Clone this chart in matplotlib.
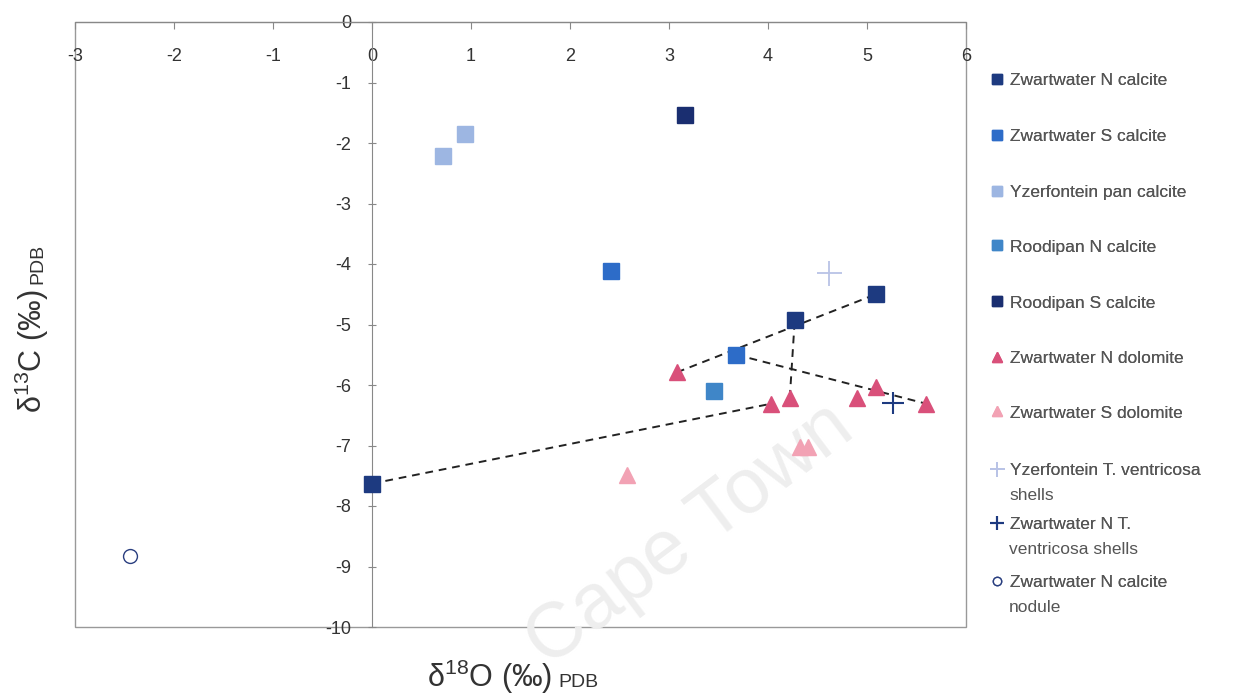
import matplotlib
matplotlib.use("Agg")
import matplotlib.pyplot as plt
from matplotlib.patches import Rectangle

plt.rcParams['font.family'] = ['Liberation Sans', 'DejaVu Sans']
plt.rcParams['mathtext.fontset'] = 'custom'
plt.rcParams['mathtext.rm'] = 'Liberation Sans'

# ---- data ----
zn_cal_x = [5.09, 4.27, 0.0]
zn_cal_y = [-4.50, -4.93, -7.63]
zs_cal_x = [2.41, 3.68]
zs_cal_y = [-4.12, -5.50]
yz_cal_x = [0.94, 0.72]
yz_cal_y = [-1.85, -2.21]
rn_cal_x = [3.45]
rn_cal_y = [-6.10]
rs_cal_x = [3.16]
rs_cal_y = [-1.54]
zn_dol_x = [3.08, 4.03, 4.22, 4.90, 5.09, 5.60]
zn_dol_y = [-5.79, -6.31, -6.21, -6.21, -6.03, -6.31]
zs_dol_x = [2.58, 4.32, 4.40]
zs_dol_y = [-7.49, -7.02, -7.02]
yz_shell_x = [4.62]
yz_shell_y = [-4.15]
zn_shell_x = [5.26]
zn_shell_y = [-6.30]
nodule_x = [-2.44]
nodule_y = [-8.83]

# dashed connecting lines (pairs of end points)
link_x = [[0.0, 4.03], [4.22, 4.27], [3.08, 5.09], [3.68, 5.60]]
link_y = [[-7.63, -6.31], [-6.21, -4.93], [-5.79, -4.50], [-5.50, -6.31]]

x_ticks = [-3, -2, -1, 0, 1, 2, 3, 4, 5, 6]
y_ticks = [0, -1, -2, -3, -4, -5, -6, -7, -8, -9, -10]

legend_first = ['Zwartwater N calcite', 'Zwartwater S calcite', 'Yzerfontein pan calcite',
                'Roodipan N calcite', 'Roodipan S calcite', 'Zwartwater N dolomite',
                'Zwartwater S dolomite', 'Yzerfontein T. ventricosa', 'Zwartwater N T.',
                'Zwartwater N calcite']
legend_second = ['', '', '', '', '', '', '', 'shells', 'ventricosa shells', 'nodule']

W, H = 1238, 696
fig = plt.figure(figsize=(12.38, 6.96), dpi=100)
ax = fig.add_axes([75/W, 1-627/H, (966-75)/W, (627-22)/H])

# watermark (behind the marks)
ax.text(690/W, 1-535/H, 'Cape Town', rotation=37, ha='center', va='center',
        fontsize=56, color='#eeeeee', zorder=1, transform=fig.transFigure,
        clip_on=False)

for lx, ly in zip(link_x, link_y):
    ax.plot(lx, ly, ls=(0, (4, 3)), color='#222222', lw=1.4, zorder=2)

h = []
h.append(ax.plot(zn_cal_x, zn_cal_y, 's', color='#1d3a80', ms=11, ls='none', zorder=3)[0])
h.append(ax.plot(zs_cal_x, zs_cal_y, 's', color='#2d6cc8', ms=11, ls='none', zorder=3)[0])
h.append(ax.plot(yz_cal_x, yz_cal_y, 's', color='#9db6e2', ms=11, ls='none', zorder=3)[0])
h.append(ax.plot(rn_cal_x, rn_cal_y, 's', color='#3f86c8', ms=11, ls='none', zorder=3)[0])
h.append(ax.plot(rs_cal_x, rs_cal_y, 's', color='#1a2e70', ms=11, ls='none', zorder=3)[0])
h.append(ax.plot(zn_dol_x, zn_dol_y, '^', color='#d9507a', ms=11, ls='none', zorder=3)[0])
h.append(ax.plot(zs_dol_x, zs_dol_y, '^', color='#f2a2b4', ms=11, ls='none', zorder=3)[0])
h.append(ax.plot(yz_shell_x, yz_shell_y, '+', color='#b9c3e6', ms=18, mew=1.3, ls='none', zorder=3)[0])
h.append(ax.plot(zn_shell_x, zn_shell_y, '+', color='#1d3a80', ms=16, mew=1.5, ls='none', zorder=3)[0])
h.append(ax.plot(nodule_x, nodule_y, 'o', mfc='white', mec='#2a3f80', mew=1.0, ms=10, ls='none', zorder=3)[0])

ax.set_xlim(-3, 6)
ax.set_ylim(-10, 0)

# spines: y-axis through x=0, x-axis along the top
for s in ['bottom', 'right']:
    ax.spines[s].set_visible(False)
ax.spines['left'].set_position(('data', 0))
ax.spines['left'].set_color('#888888')
ax.spines['top'].set_color('#888888')
ax.add_patch(Rectangle((0, 0), 1, 1, transform=ax.transAxes, fill=False,
                       ec='#999999', lw=1.0, zorder=0, clip_on=False))

ax.xaxis.tick_top()
ax.set_xticks(x_ticks)
ax.set_xticklabels([str(v) for v in x_ticks])
ax.tick_params(axis='x', direction='in', length=5, color='#888888', pad=-31,
               labelsize=13, labelcolor='#333333')
ax.set_yticks(y_ticks)
ax.set_yticklabels([str(v) for v in y_ticks])
ax.tick_params(axis='y', direction='inout', length=6, color='#888888', pad=12,
               labelsize=13, labelcolor='#333333')

# axis titles: main part + small "PDB" on the same baseline
tx = fig.text(427/W, 1-687/H, r'δ$^{18}$O (‰)', ha='left', va='baseline',
              fontsize=22, color='#333333')
ty = fig.text(42/W, 1-413/H, r'δ$^{13}$C (‰)', rotation=90, ha='left',
              va='baseline', fontsize=22, color='#333333', rotation_mode='anchor')
fig.canvas.draw()
bbx = tx.get_window_extent()
fig.text((bbx.x1 + 6)/W, 1-687/H, 'PDB', ha='left', va='baseline',
         fontsize=14, color='#333333')
bby = ty.get_window_extent()
fig.text(42/W, (bby.y1 + 6)/H, 'PDB', rotation=90, ha='left', va='baseline',
         fontsize=14, color='#333333', rotation_mode='anchor')

# legend rows (row centre y in pixels of the first line)
row_y = [80, 136, 192, 247, 303, 358, 413, 470, 524, 582]
for hd, l1, l2, yy in zip(h, legend_first, legend_second, row_y):
    lg = fig.legend(handles=[hd], labels=[l1], loc='center left',
                    bbox_to_anchor=(990/W, 1-yy/H), frameon=False, fontsize=12.5,
                    handlelength=0.8, handletextpad=0.35, markerscale=0.6,
                    borderpad=0, borderaxespad=0)
    for t in lg.get_texts():
        t.set_color('#555555')
    fig.add_artist(lg)
    if l2:
        fig.text(1009/W, 1-(yy+25)/H, l2, ha='left', va='center', fontsize=12.5,
                 color='#555555')

fig.savefig('out.png', dpi=100)
